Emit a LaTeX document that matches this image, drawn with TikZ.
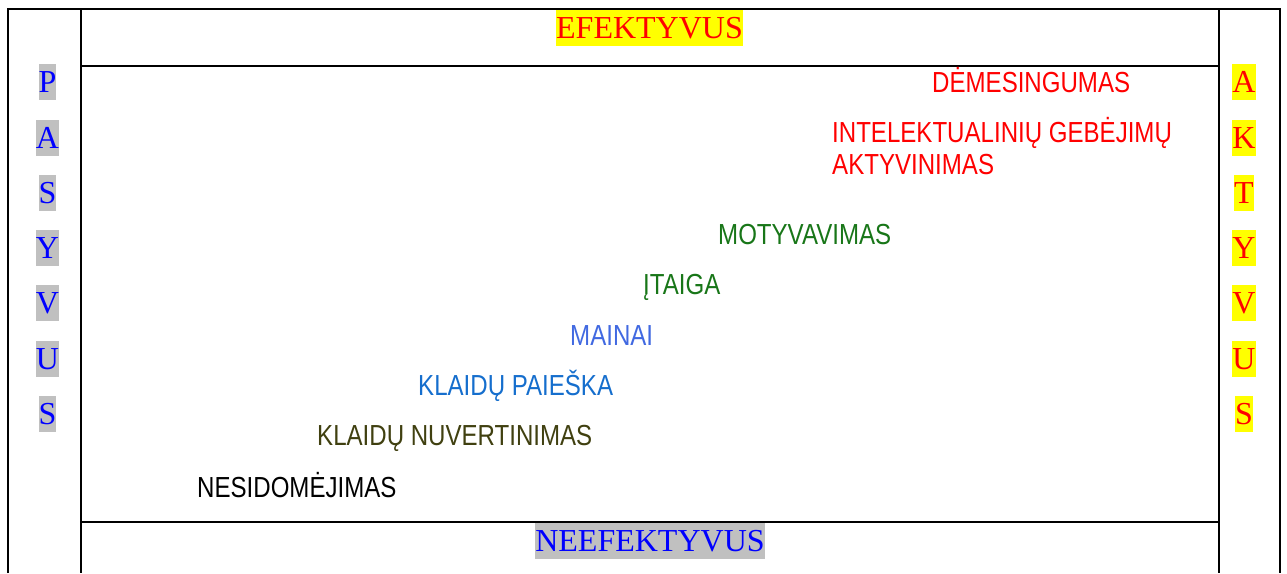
\documentclass[tikz,border=0pt]{standalone}
\usepackage{fontspec}
\setmainfont{Liberation Serif}
\newfontfamily\narrowsans[FakeStretch=0.83]{Liberation Sans}
\definecolor{hlgray}{RGB}{192,192,192}
\definecolor{hlyellow}{RGB}{255,255,0}
\definecolor{txtblue}{RGB}{0,0,255}
\definecolor{txtred}{RGB}{255,0,0}
\definecolor{stepgreen}{RGB}{24,118,24}
\definecolor{stepblue}{RGB}{65,105,225}
\definecolor{stepsteel}{RGB}{21,110,205}
\definecolor{stepolive}{RGB}{64,64,16}
\tikzset{
  rule/.style={line width=2.3pt, black},
  serifword/.style={font=\fontsize{32}{38}\selectfont, inner sep=0pt,
    text height=28pt, text depth=8pt, anchor=base},
  passive/.style={serifword, fill=hlgray, text=txtblue},
  active/.style={serifword, fill=hlyellow, text=txtred},
  stage/.style={font=\narrowsans\fontsize{29}{32}\selectfont, inner sep=0pt,
    anchor=base west, align=left},
}
\begin{document}
\begin{tikzpicture}[x=1pt,y=-1pt]
  \useasboundingbox (0,0) rectangle (1287,573);
  % table frame
  \draw[rule] (8,573) -- (8,9) -- (1280,9) -- (1280,573);
  \draw[rule] (81,9) -- (81,573);
  \draw[rule] (1219,9) -- (1219,573);
  \draw[rule] (81,66) -- (1219,66);
  \draw[rule] (81,522) -- (1219,522);

  % header and footer
  \node[active] (top) at (649.5,38) {EFEKTYVUS};
  \node[passive] (bottom) at (650,551) {NEEFEKTYVUS};

  % left column: PASYVUS
  \foreach \ch/\yy [count=\i] in {P/92,A/148,S/203,Y/258,V/313,U/369,S/424}
    \node[passive] (pas\i) at (47.5,\yy) {\ch};
  % right column: AKTYVUS
  \foreach \ch/\yy [count=\i] in {A/92,K/148,T/203,Y/258,V/313,U/369,S/424}
    \node[active] (akt\i) at (1244,\yy) {\ch};

  % stages (the base of a two-line node is its last line)
  \node[stage, text=txtred] (s1) at (932,92) {DĖMESINGUMAS};
  \node[stage, text=txtred] (s2) at (832,174) {INTELEKTUALINIŲ GEBĖJIMŲ\\AKTYVINIMAS};
  \node[stage, text=stepgreen] (s3) at (718,244) {MOTYVAVIMAS};
  \node[stage, text=stepgreen] (s4) at (643,294) {ĮTAIGA};
  \node[stage, text=stepblue] (s5) at (570,345) {MAINAI};
  \node[stage, text=stepsteel] (s6) at (418,395) {KLAIDŲ PAIEŠKA};
  \node[stage, text=stepolive] (s7) at (317,445) {KLAIDŲ NUVERTINIMAS};
  \node[stage, text=black] (s8) at (197,497) {NESIDOMĖJIMAS};
\end{tikzpicture}
\end{document}
